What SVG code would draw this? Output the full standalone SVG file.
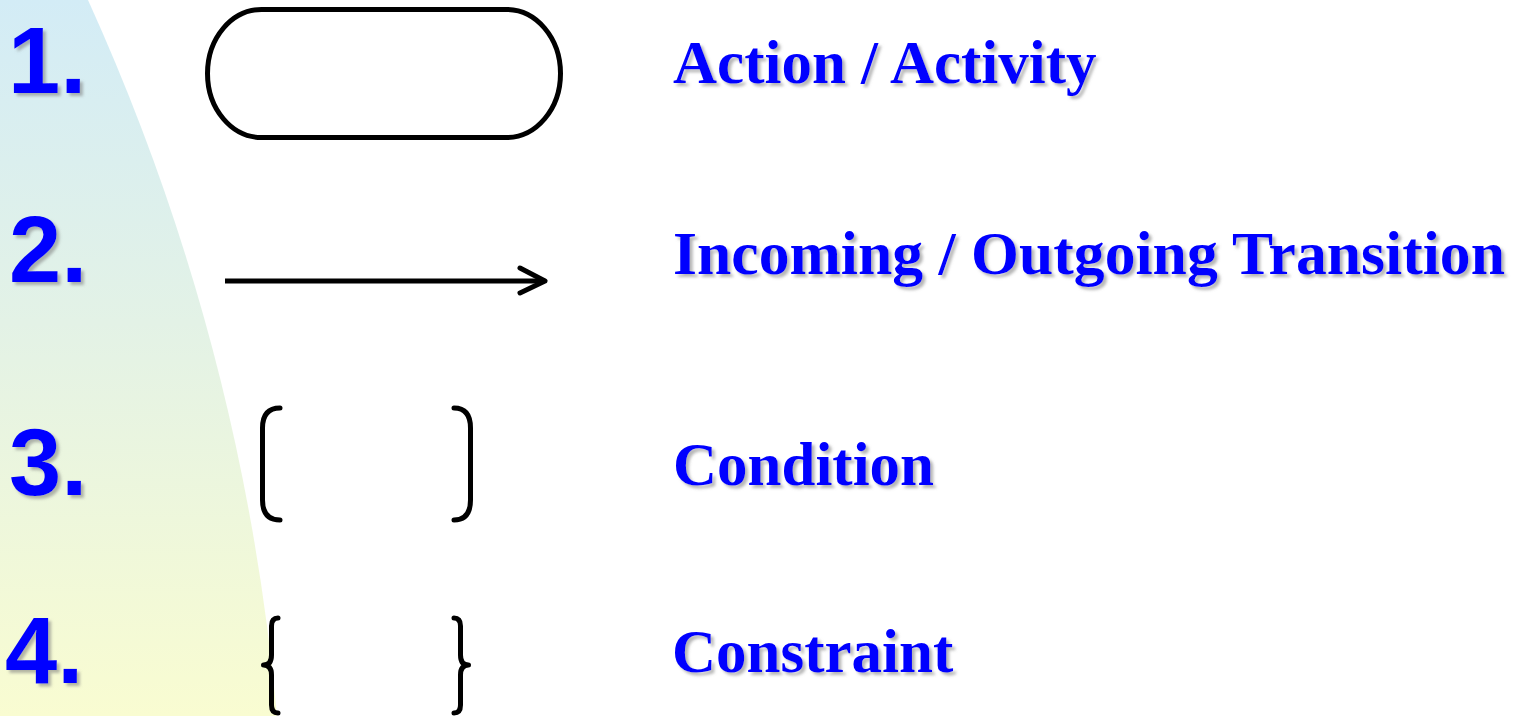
<svg xmlns="http://www.w3.org/2000/svg" width="1529" height="716" viewBox="0 0 1529 716">
  <defs>
    <linearGradient id="bgGrad" x1="0" y1="0" x2="0" y2="1">
      <stop offset="0" stop-color="#d3ecf6"/>
      <stop offset="0.45" stop-color="#e3f2e6"/>
      <stop offset="1" stop-color="#f9fcd1"/>
    </linearGradient>
    <filter id="shadow" x="-10%" y="-20%" width="130%" height="150%">
      <feDropShadow dx="3" dy="3" stdDeviation="1.8" flood-color="#7a7a7a" flood-opacity="0.55"/>
    </filter>
    <style>
      .num { font-family: "Liberation Sans", Arial, sans-serif; font-weight: bold; font-size: 94px; fill: #0000ff; filter: url(#shadow); }
      .lbl { font-family: "Liberation Serif", "Times New Roman", serif; font-weight: bold; font-size: 61px; fill: #0000ff; filter: url(#shadow); }
      .sym { fill: none; stroke: #000000; stroke-width: 5; stroke-linecap: round; stroke-linejoin: round; }
    </style>
  </defs>

  <rect x="0" y="0" width="1529" height="716" fill="#ffffff"/>
  <g id="background">
    <path d="M0,0 L88,0 A2217,2217 0 0 1 277,716 L0,716 Z" fill="url(#bgGrad)"/>
  </g>

  <g id="item1">
    <text class="num" x="8" y="93">1.</text>
    <rect class="sym" x="207.5" y="9.5" width="353" height="128" rx="54" ry="64"/>
    <text class="lbl" x="673" y="83">Action / Activity</text>
  </g>

  <g id="item2">
    <text class="num" x="9" y="282">2.</text>
    <text class="lbl" x="673" y="274" textLength="832" lengthAdjust="spacingAndGlyphs">Incoming / Outgoing Transition</text>
  </g>

  <g id="connectors">
    <line x1="225" y1="281" x2="543" y2="281" stroke="#000" stroke-width="5"/>
    <polyline class="sym" points="520,268 545,281 520,293"/>
  </g>

  <g id="item3">
    <text class="num" x="9" y="495">3.</text>
    <path class="sym" d="M280,408 Q262.5,408 262.5,428 V500 Q262.5,520 280,520"/>
    <path class="sym" d="M454,408 Q470.5,408 470.5,428 V500 Q470.5,520 454,520"/>
    <text class="lbl" x="673" y="485">Condition</text>
  </g>

  <g id="item4">
    <text class="num" x="5" y="683">4.</text>
    <path class="sym" d="M278,618 Q271.5,618 271.5,626 V655 Q271.5,665 263.5,665 Q271.5,665 271.5,675 V705 Q271.5,713 278,713"/>
    <path class="sym" d="M454,618 Q460.5,618 460.5,626 V655 Q460.5,665 468.5,665 Q460.5,665 460.5,675 V705 Q460.5,713 454,713"/>
    <text class="lbl" x="672" y="672">Constraint</text>
  </g>
</svg>
